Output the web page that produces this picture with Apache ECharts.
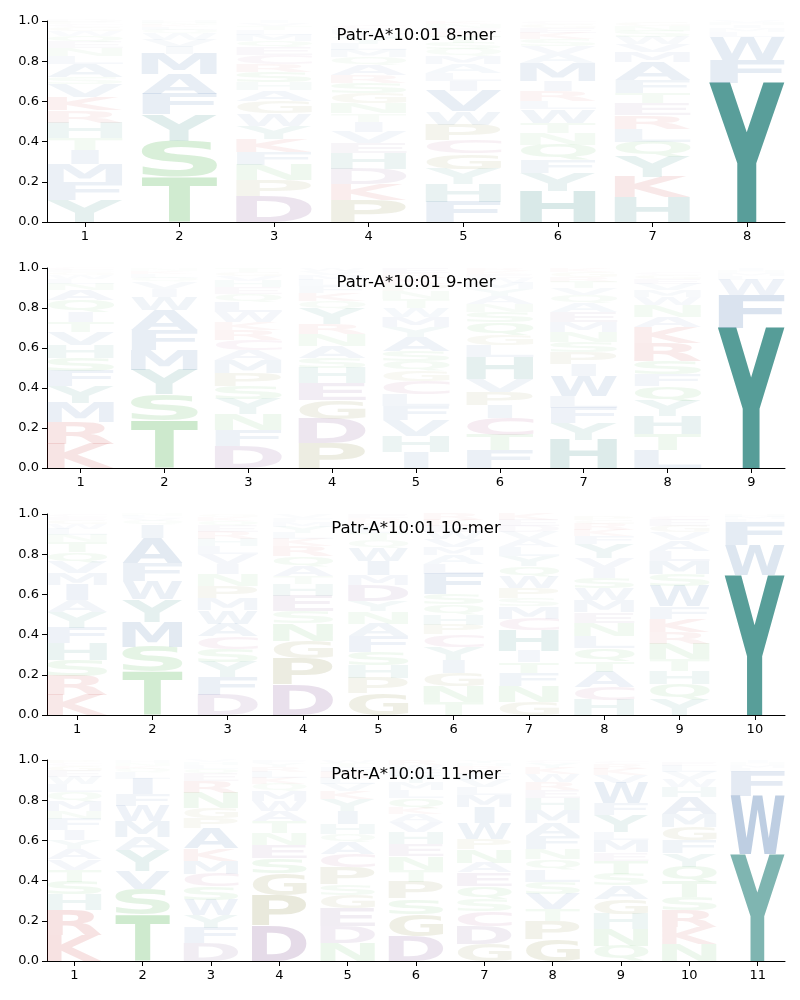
<!DOCTYPE html>
<html><head><meta charset="utf-8">
<script src="https://cdn.jsdelivr.net/npm/echarts@6/dist/echarts.min.js"></script>
<style>html,body{margin:0;padding:0;background:#fff}#c{width:800px;height:1000px}</style>
</head><body><div id="c"></div>
<script>
// Titles of the four panels
const titles = ['Patr-A*10:01 8-mer', 'Patr-A*10:01 9-mer', 'Patr-A*10:01 10-mer', 'Patr-A*10:01 11-mer'];
const yTicks = [0, 0.2, 0.4, 0.6, 0.8, 1.0];

// Per-position letter frequencies, stacked bottom -> top ("<letter><value>")
const mer8 = [
  'Y.11 F.09 M.09 I.07 T.06 H.075 R.06 K.065 V.065 S.035 A.065 L.04 N.04 E.03 Q.03 W.025 G.02 C.015 P.01 D.01',
  'T.225 S.18 Y.13 F.10 A.10 M.10 I.035 V.035 W.03 Q.02 L.015 K.01 N.01 H.01',
  'D.13 P.08 N.075 F.065 K.065 Y.065 W.06 G.06 A.055 H.04 S.05 R.04 C.045 E.04 Q.03 M.03 L.025 T.02 V.015 I.01',
  'P.11 K.08 D.075 H.08 E.05 V.055 I.05 T.04 N.05 G.05 S.05 R.04 A.05 Q.04 M.035 L.03 Y.03 W.025 F.02 C.02',
  'F.10 H.09 Y.075 G.075 C.065 P.08 W.065 V.10 I.05 L.04 A.045 M.04 Q.035 S.03 T.03 R.025 E.02 N.02 K.015',
  'H.155 Y.09 F.065 Q.075 N.06 T.05 W.065 L.04 R.05 I.05 M.09 A.045 V.04 S.035 K.03 E.025 G.02 C.015',
  'H.125 K.10 Y.10 Q.075 L.065 R.065 E.06 T.05 F.065 A.09 M.05 V.04 W.035 S.03 N.025 G.02',
  'Y.69 F.115 W.115 L.025 M.02 I.015 H.01 V.01'
];
const mer9 = [
  'K.12 R.11 M.095 Y.085 F.075 S.065 H.065 V.065 T.05 I.05 Q.06 A.05 N.03 L.025 W.02 G.015 E.01 C.01',
  'T.24 S.13 Y.12 M.10 F.10 A.10 W.065 I.04 V.035 Q.02 L.02 K.015 N.01',
  'D.11 F.08 N.08 Y.075 S.065 P.065 M.065 A.05 C.05 R.05 K.04 W.05 L.05 Q.04 E.035 H.03 V.025 G.02 T.02',
  'P.125 D.12 G.095 E.085 H.075 S.05 A.06 N.06 R.05 Y.075 Q.04 K.04 F.035 L.03 M.025 V.02 W.015',
  'I.08 H.08 V.08 F.07 L.06 C.065 G.05 Q.05 S.05 A.07 Y.05 M.05 W.045 T.045 N.04 P.035 K.03 R.025 E.025',
  'F.09 T.075 C.085 I.065 P.065 V.065 H.11 L.06 G.05 Q.065 S.05 N.04 A.04 Y.035 M.03 W.025 E.02 K.015 R.015',
  'H.14 Y.085 F.075 L.06 W.10 I.06 P.06 S.05 N.05 M.05 E.05 A.045 Q.04 V.035 T.03 R.025 G.025 K.02',
  'L.09 T.08 H.09 Y.075 Q.075 F.06 S.065 R.09 K.08 A.05 N.06 W.04 M.035 V.03 E.025 G.02 C.015',
  'Y.70 F.165 W.075 L.02 M.015 H.01 I.01'
];
const mer10 = [
  'K.10 R.095 S.08 H.085 F.075 Y.075 A.06 I.075 M.06 V.055 Q.05 T.05 N.035 L.03 W.025 G.02 E.015 C.015',
  'T.215 S.125 M.125 Y.11 W.09 F.09 A.125 I.065 Q.02 V.015 L.01 N.01',
  'D.10 F.09 Y.075 S.065 C.06 A.065 W.065 M.06 P.06 N.06 I.05 V.05 L.04 H.035 R.035 E.03 Q.025 K.02 G.015',
  'D.15 P.13 G.09 N.085 S.06 E.075 H.06 T.04 A.05 Q.05 R.05 K.035 L.03 Y.03 M.025 F.02 V.02',
  'G.11 P.075 H.065 S.065 F.075 A.065 N.06 Y.05 D.08 M.05 I.07 W.065 Q.04 T.035 L.03 K.025 R.02 E.02',
  'T.065 N.08 G.065 I.065 Y.065 C.06 P.05 H.05 Q.05 S.05 F.10 L.05 A.045 M.04 V.04 W.035 E.03 K.03 R.03',
  'G.065 N.08 F.065 T.055 I.055 H.10 C.06 M.06 S.04 P.05 W.06 Q.05 Y.05 L.045 A.04 V.035 D.03 E.03 K.03',
  'H.075 C.065 A.075 T.055 Q.065 L.06 N.065 E.05 M.06 W.06 S.05 I.05 V.05 Y.07 F.04 K.03 R.03 G.02 P.02',
  'Y.075 Q.08 H.065 T.06 N.075 R.06 K.065 F.06 W.10 S.06 M.065 L.05 A.055 V.04 G.03 E.03 C.02',
  'Y.695 W.15 F.115 L.015 M.01 H.01'
];
const mer11 = [
  'K.13 R.125 H.075 S.065 T.06 V.05 A.05 Y.045 I.05 F.055 N.04 M.05 Q.045 L.04 W.035 E.03 G.025 C.015 P.015',
  'T.23 S.13 V.09 Y.10 A.065 M.08 W.075 F.06 I.075 L.03 Q.02 K.015 N.015 H.01',
  'D.09 F.075 Y.065 W.075 S.065 C.065 M.065 K.06 A.10 P.05 G.05 N.075 R.06 E.035 Q.025 L.02 H.015 V.01',
  'D.175 P.15 G.11 S.075 E.065 N.06 T.06 A.05 W.05 M.05 Q.035 K.03 L.03 R.025 Y.02 F.015',
  'N.09 D.085 E.09 G.065 S.05 P.085 C.065 A.06 Q.04 H.05 I.065 Y.06 K.04 V.035 L.03 R.03 F.025 T.02 W.015',
  'D.125 G.11 S.075 P.085 T.06 N.065 E.06 H.06 V.05 A.04 K.03 Q.05 L.04 M.035 Y.035 F.03 W.025 R.025',
  'G.085 D.09 C.075 S.06 Q.065 E.065 A.05 N.065 P.05 W.08 I.08 M.06 L.04 V.035 F.03 K.02 R.02 H.015 Y.015',
  'G.11 P.09 T.06 V.075 S.06 L.06 Q.05 N.05 F.065 A.065 M.065 H.06 E.04 R.04 W.04 K.03 Y.025 C.015',
  'Q.075 N.085 H.075 G.075 A.065 S.06 T.065 E.04 M.06 L.04 Y.085 F.06 W.10 V.04 K.03 R.025 C.015',
  'N.085 K.085 R.085 S.065 T.075 Q.075 Y.065 F.065 G.065 M.065 A.085 H.05 W.04 V.035 L.03 E.02',
  'Y.53 W.29 F.12 L.02 M.015 H.01 I.01'
];
const panels = [mer8, mer9, mer10, mer11];

// Base colours per letter group (opacity = frequency)
const teal = [14, 115, 108], blue = [30, 85, 155], green = [45, 165, 45],
      olive = [110, 110, 20], purple = [105, 50, 127], red = [190, 30, 30], pink = [150, 40, 110];
const letterColor = {
  Y: teal, H: teal,
  W: blue, F: blue, M: blue, A: blue, V: blue, I: blue, L: blue,
  S: green, T: green, N: green, Q: green,
  G: olive, P: olive,
  D: purple, E: purple,
  K: red, R: red,
  C: pink
};
const ALPHA = 'ACDEFGHIKLMNPQRSTVWY';

const FONT = 'bold 100px "DejaVu Sans"';
const cv = document.createElement('canvas').getContext('2d');
cv.font = FONT; cv.textBaseline = 'middle'; cv.textAlign = 'left';
const metrics = {};
for (const ch of ALPHA) {
  const m = cv.measureText(ch);
  metrics[ch] = {left: m.actualBoundingBoxLeft, asc: m.actualBoundingBoxAscent,
    w: m.actualBoundingBoxLeft + m.actualBoundingBoxRight,
    h: m.actualBoundingBoxAscent + m.actualBoundingBoxDescent};
}

const gridTops = [21, 268, 514, 760];
const gridHeights = [201, 200, 201, 201];
const grids = [], xAxes = [], yAxes = [], series = [], graphics = [];

panels.forEach((cols, pi) => {
  const n = cols.length;
  const positions = cols.map((_, i) => i + 1);
  grids.push({left: 47, width: 738, top: gridTops[pi], height: gridHeights[pi]});
  graphics.push({type: 'text', x: 416, y: gridTops[pi] + 15, z: 100,
    style: {text: titles[pi], align: 'center', verticalAlign: 'middle',
      font: '16.5px "DejaVu Sans"', fill: '#000'}});
  xAxes.push({gridIndex: pi, type: 'value', min: 0.6, max: n + 0.4,
    axisLine: {show: true, onZero: false, lineStyle: {color: '#000', width: 1}},
    axisTick: {show: true, customValues: positions, length: 5, lineStyle: {color: '#000'}},
    axisLabel: {customValues: positions, color: '#000', fontSize: 13, fontFamily: 'DejaVu Sans', margin: 8},
    splitLine: {show: false}});
  yAxes.push({gridIndex: pi, type: 'value', min: 0, max: 1, interval: 0.2,
    axisLine: {show: true, lineStyle: {color: '#000', width: 1}},
    axisTick: {show: true, length: 5, lineStyle: {color: '#000'}},
    axisLabel: {color: '#000', fontSize: 13, fontFamily: 'DejaVu Sans', margin: 8,
      formatter: v => v.toFixed(1)},
    splitLine: {show: false}});
  const data = [];
  cols.forEach((str, i) => {
    let base = 0;
    str.trim().split(/\s+/).forEach(tok => {
      const ch = tok[0], v = parseFloat(tok.slice(1));
      data.push([i + 1, base, base + v, ALPHA.indexOf(ch), v]);
      base += v;
    });
  });
  series.push({
    type: 'custom', xAxisIndex: pi, yAxisIndex: pi, data,
    encode: {x: 0, y: [1, 2]},
    silent: true,
    renderItem: (params, api) => {
      const x = api.value(0), y0 = api.value(1), y1 = api.value(2);
      const ch = ALPHA[api.value(3)], v = api.value(4);
      const pA = api.coord([x - 0.4, y0]), pB = api.coord([x + 0.4, y1]);
      const W = pB[0] - pA[0], H = pA[1] - pB[1];
      if (H < 0.2) return null;
      const m = metrics[ch];
      const sy = H / m.h;
      let sx = W / m.w;
      const sxE = W / metrics.E.w;
      if (sx > sxE) sx = sxE;
      const off = (W - sx * m.w) / 2;
      const c = letterColor[ch];
      return {
        type: 'text',
        x: pA[0] + off + sx * m.left,
        y: pB[1] + sy * m.asc,
        scaleX: sx, scaleY: sy,
        style: {text: ch, font: FONT, x: 0, y: 0, align: 'left', verticalAlign: 'middle',
          fill: 'rgba(' + c[0] + ',' + c[1] + ',' + c[2] + ',' + v + ')'}
      };
    }
  });
});

const chart = echarts.init(document.getElementById('c'), null, {renderer: 'canvas'});
chart.setOption({
  animation: false,
  backgroundColor: '#fff',
  graphic: graphics,
  grid: grids, xAxis: xAxes, yAxis: yAxes, series
});
</script>
</body></html>
